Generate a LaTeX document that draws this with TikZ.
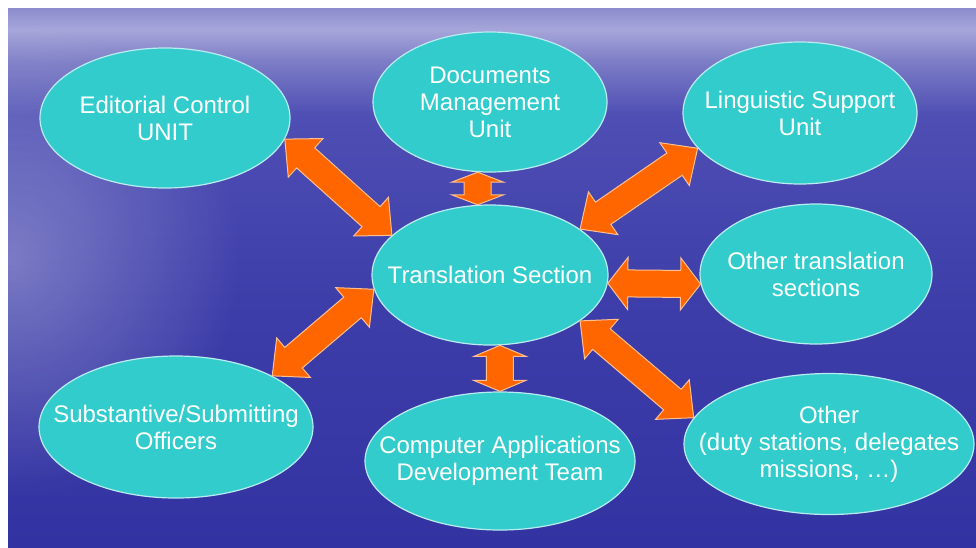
\documentclass[tikz,border=0pt]{standalone}
\usepackage{fontspec}
\setmainfont{Liberation Sans}
\usetikzlibrary{calc}
\usetikzlibrary{shapes.geometric}
\usetikzlibrary{fadings}
\definecolor{seadeep}{HTML}{3232A2}
\definecolor{seamid}{HTML}{3E3EAA}
\definecolor{seaupper}{HTML}{4E4EB4}
\definecolor{sealight}{HTML}{7C7CC6}
\definecolor{seastreak}{HTML}{A6A6DA}
\definecolor{seatop}{HTML}{8C8CCE}
\definecolor{unitfill}{HTML}{33CCCC}
\definecolor{unitline}{HTML}{B8ECF0}
\definecolor{linkfill}{HTML}{FF6600}
\definecolor{linkline}{HTML}{FFC090}
\pgfdeclareverticalshading{sea}{100bp}{color(0bp)=(seadeep); color(25bp)=(seadeep);
  color(48bp)=(seamid); color(65bp)=(seaupper); color(70bp)=(sealight);
  color(73bp)=(seastreak); color(75bp)=(seatop); color(100bp)=(seatop)}
\tikzfading[name=glow, inner color=transparent!0, outer color=transparent!100]
\tikzset {
  % turquoise ellipse of a unit
  unit/.style = {ellipse, draw=unitline, line width=1.2pt, fill=unitfill, inner sep=0pt},
  % white text set in the middle of a unit
  caption/.style = {text=white, align=center, font=\fontsize{24}{27}\selectfont},
  % orange double block arrow
  link/.style = {draw=linkline, line width=1pt, fill=linkfill, line join=miter},
}
\newcommand{\headw}{26pt}
\newcommand{\shaftw}{13.5pt}
% double block arrow from tip #1 to tip #2, head length #3
\newcommand{\blockarrow}[3]{%
  \coordinate (ha) at ($(#1)!#3!(#2)$);
  \coordinate (hb) at ($(#2)!#3!(#1)$);
  \filldraw[link] (#1)
    -- ($(ha)!\headw!90:(#2)$) -- ($(ha)!\shaftw!90:(#2)$)
    -- ($(hb)!\shaftw!-90:(#1)$) -- ($(hb)!\headw!-90:(#1)$)
    -- (#2)
    -- ($(hb)!\headw!90:(#1)$) -- ($(hb)!\shaftw!90:(#1)$)
    -- ($(ha)!\shaftw!-90:(#2)$) -- ($(ha)!\headw!-90:(#2)$)
    -- cycle;}

\begin{document}
\begin{tikzpicture}[x=1pt, y=-1pt]
        \useasboundingbox (0,0) rectangle (976,547);
        \fill[white] (0,0) rectangle (976,547);
        \shade[shading=sea] (8,8) rectangle (976,547);
        \begin{scope}
          \clip (8,8) rectangle (976,547);
          \fill[white, fill opacity=0.3, path fading=glow] (-220,20) rectangle (240,500);
        \end{scope}

        \node[unit, minimum width=250pt, minimum height=140pt,
          label={[caption]center:{Editorial Control\\UNIT}}] (edit) at (165,118) {};
        \node[unit, minimum width=234pt, minimum height=140pt,
          label={[caption]center:{Documents\\Management\\Unit}}] (docs) at (490,102) {};
        \node[unit, minimum width=234pt, minimum height=142pt,
          label={[caption]center:{Linguistic Support\\Unit}}] (ling) at (800,113) {};
        \node[unit, minimum width=236pt, minimum height=140pt,
          label={[caption]center:{Translation Section}}] (trans) at (490,275) {};
        \node[unit, minimum width=232pt, minimum height=140pt,
          label={[caption]center:{Other translation\\sections}}] (othtr) at (816,274) {};
        \node[unit, minimum width=274pt, minimum height=142pt,
          label={[caption]center:{Substantive/Submitting\\Officers}}] (subm) at (176,427) {};
        \node[unit, minimum width=270pt, minimum height=138pt,
          label={[caption]center:{Computer Applications\\Development Team}}] (comp) at (500,461) {};
        \node[unit, minimum width=290pt, minimum height=141pt,
          label={[caption]center:{Other\\(duty stations, delegates\\missions, \dots)}}] (other) at (829,444) {};

        \blockarrow{edit.-10}{trans.158}{28pt}
        \blockarrow{docs.-100}{trans.100}{10pt}
        \blockarrow{ling.199}{trans.27}{28pt}
        \blockarrow{trans.-4}{othtr.185}{20pt}
        \blockarrow{trans.-27}{other.169}{28pt}
        \blockarrow{trans.-82}{comp.90}{11pt}
        \blockarrow{trans.187}{subm.28}{28pt}
      \end{tikzpicture}
\end{document}
